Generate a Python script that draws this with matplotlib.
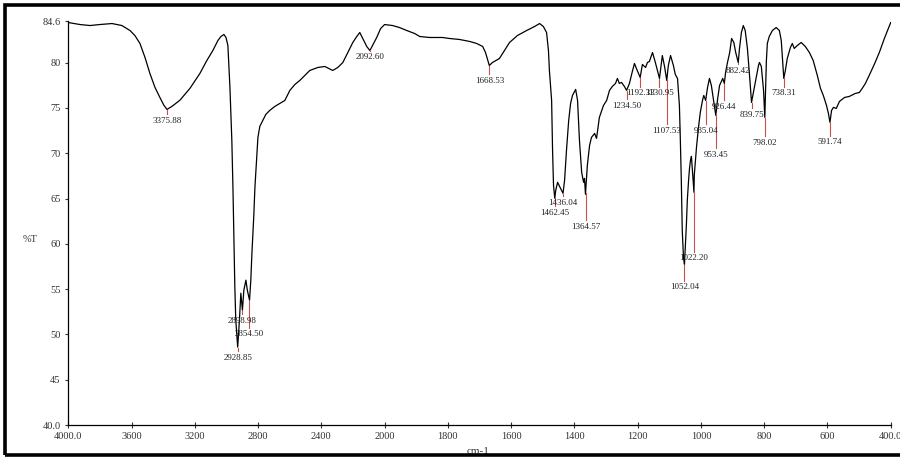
import matplotlib
matplotlib.use("Agg")
import matplotlib.pyplot as plt
import numpy as np
from matplotlib.patches import Rectangle
from matplotlib.ticker import FixedLocator, NullLocator

plt.rcParams["font.family"] = ["Liberation Serif", "DejaVu Serif"]

# IR spectrum (wavenumber cm-1, %T)
wavenumber = [
    4000, 3926, 3863, 3800, 3724, 3661, 3610, 3579, 3547, 3515, 3484, 3452, 3421, 3395,
    3376, 3345, 3294, 3231, 3168, 3124, 3086, 3054, 3035, 3016, 3003, 2991, 2978, 2966,
    2959, 2953, 2947, 2941, 2929, 2918, 2909, 2899, 2890, 2877, 2868, 2854, 2846, 2839,
    2827, 2820, 2808, 2801, 2789, 2770, 2751, 2726, 2694, 2662, 2631, 2599, 2567, 2536,
    2504, 2473, 2422, 2378, 2328, 2296, 2264, 2233, 2201, 2176, 2157, 2132, 2113, 2093,
    2076, 2050, 2025, 2000, 1975, 1953, 1930, 1905, 1889, 1858, 1817, 1795, 1763, 1731,
    1709, 1690, 1681, 1669, 1659, 1637, 1621, 1605, 1580, 1551, 1526, 1510, 1498, 1488,
    1482, 1479, 1472, 1469, 1466, 1462, 1459, 1453, 1447, 1436, 1431, 1425, 1418, 1412,
    1406, 1396, 1390, 1384, 1377, 1371, 1368, 1365, 1359, 1352, 1346, 1336, 1330, 1321,
    1308, 1298, 1289, 1280, 1270, 1264, 1258, 1251, 1242, 1235, 1226, 1216, 1210, 1204,
    1192, 1185, 1175, 1169, 1163, 1153, 1144, 1131, 1122, 1115, 1108, 1103, 1096, 1087,
    1081, 1074, 1068, 1065, 1062, 1059, 1055, 1052, 1049, 1046, 1043, 1039, 1036, 1033,
    1030, 1027, 1022, 1021, 1014, 1008, 1002, 995, 991, 985, 979, 973, 967, 960,
    953, 947, 941, 934, 931, 926, 922, 916, 909, 903, 896, 890, 882, 878,
    872, 866, 860, 853, 847, 840, 834, 824, 818, 815, 809, 802, 798, 796,
    793, 790, 784, 774, 762, 752, 746, 738, 733, 727, 717, 711, 705, 695,
    683, 670, 657, 645, 632, 622, 613, 603, 597, 592, 587, 581, 572, 562,
    546, 531, 512, 499, 490, 480, 468, 452, 436, 420, 400,
]
transmittance = [
    84.43, 84.21, 84.10, 84.21, 84.32, 84.10, 83.55, 83.00, 82.12, 80.57, 78.81, 77.27, 76.16, 75.28,
    74.84, 75.17, 75.86, 77.16, 78.81, 80.24, 81.34, 82.45, 82.89, 83.11, 82.78, 81.90, 77.27, 71.42,
    66.24, 60.40, 55.21, 51.58, 48.60, 51.58, 54.55, 52.68, 54.88, 55.99, 54.88, 53.78, 55.99, 58.96,
    63.15, 66.24, 69.77, 71.75, 72.97, 73.63, 74.29, 74.73, 75.17, 75.50, 75.83, 76.94, 77.60, 78.04,
    78.59, 79.14, 79.47, 79.58, 79.14, 79.47, 80.02, 81.12, 82.23, 82.89, 83.33, 82.45, 81.79, 81.34,
    81.90, 82.78, 83.77, 84.21, 84.10, 83.88, 83.55, 83.22, 82.89, 82.78, 82.78, 82.67, 82.56, 82.34,
    82.12, 81.79, 81.12, 79.69, 80.02, 80.46, 81.34, 82.23, 83.00, 83.55, 83.99, 84.32, 83.99, 83.33,
    81.34, 79.14, 75.83, 70.32, 66.46, 65.03, 65.91, 66.79, 66.35, 65.58, 67.01, 70.32, 73.63, 75.50,
    76.38, 77.05, 75.83, 71.42, 67.89, 66.79, 67.23, 65.47, 68.67, 70.87, 71.75, 72.19, 71.64, 73.96,
    75.28, 75.83, 76.94, 77.38, 77.71, 78.26, 77.71, 77.82, 77.38, 76.94, 77.71, 79.14, 79.91, 79.36,
    78.37, 79.80, 79.47, 80.02, 80.13, 81.12, 80.02, 78.26, 80.79, 79.58, 78.04, 79.69, 80.79, 79.69,
    78.70, 78.26, 75.28, 71.42, 67.01, 61.50, 58.41, 57.75, 59.85, 62.05, 64.81, 67.01, 68.34, 69.22,
    69.66, 68.11, 65.69, 67.56, 70.65, 72.75, 74.51, 75.83, 76.38, 75.83, 77.27, 78.26, 77.49, 75.83,
    74.18, 76.05, 77.49, 78.04, 78.26, 77.71, 78.92, 80.02, 81.12, 82.67, 82.23, 81.12, 80.02, 81.57,
    83.33, 84.10, 83.55, 81.57, 78.92, 75.61, 76.71, 78.59, 79.69, 80.02, 79.58, 76.94, 73.96, 76.38,
    80.24, 82.12, 82.89, 83.55, 83.88, 83.55, 82.45, 78.26, 79.14, 80.46, 81.68, 82.12, 81.57, 81.90,
    82.23, 81.79, 81.12, 80.24, 78.59, 77.16, 76.38, 75.28, 74.40, 73.41, 74.73, 75.06, 74.95, 75.72,
    76.16, 76.27, 76.60, 76.71, 77.16, 77.71, 78.59, 79.80, 81.12, 82.67, 84.43,
]

# picked peaks and where their labels sit (%T)
peak_wn = [3375.88, 2928.85, 2898.98, 2854.50, 2092.60, 1668.53, 1462.45, 1436.04, 1364.57,
           1234.50, 1192.33, 1130.95, 1107.53, 1052.04, 1022.20, 985.04, 953.45, 926.44,
           882.42, 839.75, 798.02, 738.31, 591.74]
peak_text = ["3375.88", "2928.85", "2898.98", "2854.50", "2092.60", "1668.53", "1462.45",
             "1436.04", "1364.57", "1234.50", "1192.33", "1130.95", "1107.53", "1052.04",
             "1022.20", "985.04", "953.45", "926.44", "882.42", "839.75", "798.02",
             "738.31", "591.74"]
label_t = [73.6, 47.4, 51.5, 50.0, 80.6, 78.0, 63.4, 64.5, 61.9, 75.2, 76.6, 76.6, 72.5,
           55.2, 58.4, 72.5, 69.8, 75.1, 79.1, 74.2, 71.1, 76.6, 71.2]

xticks = [4000, 3600, 3200, 2800, 2400, 2000, 1800, 1600, 1400, 1200, 1000, 800, 600, 400]
xtick_labels = ["4000.0", "3600", "3200", "2800", "2400", "2000", "1800", "1600", "1400",
                "1200", "1000", "800", "600", "400.0"]
yticks = [40, 45, 50, 55, 60, 65, 70, 75, 80, 84.6]
ytick_labels = ["40.0", "45", "50", "55", "60", "65", "70", "75", "80", "84.6"]


# scale halves above 2000 cm-1, as on the spectrometer printout
def fwd(x):
    x = np.asarray(x, dtype=float)
    return np.where(x <= 2000, x, 2000 + (x - 2000) / 2)


def inv(y):
    y = np.asarray(y, dtype=float)
    return np.where(y <= 2000, y, 2000 + 2 * (y - 2000))


fig = plt.figure(figsize=(9, 4.57), dpi=100)
ax = fig.add_axes([68.3 / 900, 32 / 457, (890.7 - 68.3) / 900, 404 / 457])
ax.set_xscale("function", functions=(fwd, inv))

ax.plot(wavenumber, transmittance, color="black", linewidth=0.9)

wn_sorted = np.array(wavenumber[::-1])
t_sorted = np.array(transmittance[::-1])
for w, txt, lt in zip(peak_wn, peak_text, label_t):
    tc = np.interp(w, wn_sorted, t_sorted)
    ax.plot([w, w], [tc - 0.1, lt + 0.75], color="#c8504a", linewidth=0.8)
    ax.text(w, lt, txt, ha="center", va="center", fontsize=6.5, color="#222222")

ax.set_xlim(4000, 400)
ax.set_ylim(40, 84.6)
ax.xaxis.set_major_locator(FixedLocator(xticks))
ax.xaxis.set_minor_locator(NullLocator())
ax.set_xticklabels(xtick_labels)
ax.set_yticks(yticks)
ax.set_yticklabels(ytick_labels)
ax.tick_params(axis="x", direction="inout", length=4, width=0.8, labelsize=7.5,
               colors="#333333", pad=3)
ax.tick_params(axis="y", direction="out", length=2.5, width=0.8, labelsize=7.5,
               colors="#333333", pad=3)
for side in ("top", "right"):
    ax.spines[side].set_visible(False)
for side in ("left", "bottom"):
    ax.spines[side].set_linewidth(0.9)

fig.text(30 / 900, 1 - 240 / 457, "%T", ha="center", va="center", fontsize=7.5,
         color="#333333")
fig.text(478 / 900, 1 - 451 / 457, "cm-1", ha="center", va="center", fontsize=8,
         color="#333333")

# black border around the printout
fig.add_artist(Rectangle((5 / 900, 2.5 / 457), 905 / 900, 449.5 / 457,
                         transform=fig.transFigure, fill=False, edgecolor="black",
                         linewidth=2.6, zorder=10))

fig.savefig("out.png", dpi=100)
